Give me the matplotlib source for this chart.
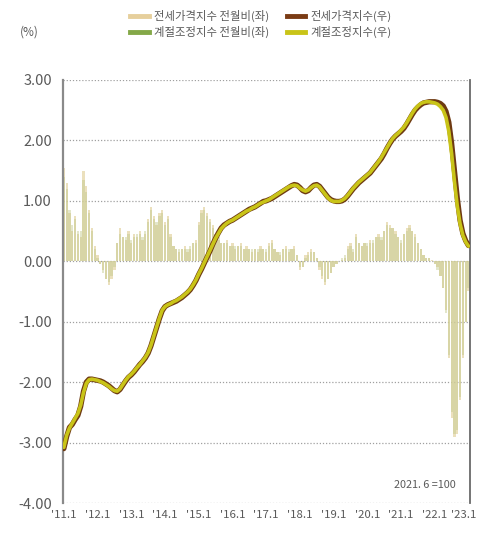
import matplotlib
matplotlib.use("Agg")
import matplotlib.pyplot as plt
import matplotlib.transforms as mtransforms
from matplotlib.lines import Line2D
import numpy as np

plt.rcParams['font.family'] = ['Noto Sans CJK KR', 'DejaVu Sans']

# x tick labels (every January, 2011-2023)
tick_labels = ["'11.1", "'12.1", "'13.1", "'14.1", "'15.1", "'16.1", "'17.1",
               "'18.1", "'19.1", "'20.1", "'21.1", "'22.1", "'23.1"]

# Monthly change of the jeonse price index (%), 2011.1 - 2023.1
chg_raw = (
    [1.55, 1.30, 0.80, 0.50, 0.75, 0.45, 0.40, 1.50, 1.25, 0.85, 0.55, 0.25] +      # 2011
    [0.10, -0.05, -0.15, -0.30, -0.40, -0.30, -0.15, 0.30, 0.55, 0.40, 0.35, 0.50] +  # 2012
    [0.30, 0.45, 0.40, 0.50, 0.35, 0.45, 0.70, 0.90, 0.75, 0.60, 0.80, 0.85] +      # 2013
    [0.65, 0.75, 0.45, 0.25, 0.20, 0.15, 0.20, 0.25, 0.15, 0.20, 0.30, 0.35] +      # 2014
    [0.65, 0.85, 0.90, 0.80, 0.70, 0.60, 0.45, 0.35, 0.30, 0.30, 0.35, 0.25] +      # 2015
    [0.30, 0.20, 0.25, 0.30, 0.20, 0.25, 0.20, 0.15, 0.20, 0.15, 0.25, 0.20] +      # 2016
    [0.15, 0.30, 0.35, 0.20, 0.15, 0.10, 0.20, 0.25, 0.15, 0.20, 0.25, 0.10] +      # 2017
    [-0.15, -0.10, 0.10, 0.15, 0.20, 0.15, 0.05, -0.15, -0.30, -0.40, -0.30, -0.20] +  # 2018
    [-0.10, -0.05, 0.00, 0.02, 0.05, 0.25, 0.30, 0.15, 0.45, 0.30, 0.25, 0.30] +    # 2019
    [0.25, 0.35, 0.30, 0.40, 0.45, 0.35, 0.50, 0.65, 0.60, 0.55, 0.50, 0.40] +      # 2020
    [0.30, 0.45, 0.55, 0.60, 0.50, 0.45, 0.30, 0.20, 0.10, 0.05, 0.05, 0.02] +      # 2021
    [-0.05, -0.10, -0.25, -0.45, -0.80, -1.60, -2.60, -2.90, -2.85, -2.30, -1.60, -1.00] +  # 2022
    [-0.50]                                                                         # 2023
)

# Monthly change of the seasonally adjusted index (%)
chg_sa = (
    [1.40, 1.20, 0.85, 0.60, 0.70, 0.50, 0.50, 1.35, 1.15, 0.80, 0.50, 0.20] +
    [0.05, -0.05, -0.20, -0.30, -0.35, -0.25, -0.10, 0.30, 0.45, 0.40, 0.40, 0.45] +
    [0.35, 0.40, 0.45, 0.45, 0.40, 0.50, 0.65, 0.85, 0.70, 0.65, 0.75, 0.80] +
    [0.60, 0.70, 0.40, 0.25, 0.20, 0.20, 0.20, 0.20, 0.20, 0.25, 0.30, 0.30] +
    [0.60, 0.80, 0.85, 0.75, 0.65, 0.55, 0.45, 0.40, 0.30, 0.30, 0.30, 0.25] +
    [0.25, 0.25, 0.25, 0.25, 0.20, 0.20, 0.20, 0.20, 0.20, 0.20, 0.20, 0.20] +
    [0.20, 0.25, 0.30, 0.20, 0.15, 0.15, 0.20, 0.20, 0.20, 0.20, 0.20, 0.10] +
    [-0.10, -0.10, 0.05, 0.10, 0.15, 0.15, 0.05, -0.10, -0.25, -0.35, -0.30, -0.20] +
    [-0.10, -0.05, 0.00, 0.05, 0.10, 0.20, 0.25, 0.20, 0.40, 0.30, 0.25, 0.30] +
    [0.30, 0.30, 0.35, 0.40, 0.40, 0.40, 0.50, 0.60, 0.55, 0.55, 0.45, 0.40] +
    [0.35, 0.45, 0.50, 0.55, 0.50, 0.40, 0.30, 0.20, 0.10, 0.05, 0.05, 0.00] +
    [-0.05, -0.15, -0.25, -0.45, -0.85, -1.55, -2.50, -2.85, -2.80, -2.25, -1.55, -1.00] +
    [-0.45]
)

# Index level (2021.6 = 100), shown on the hidden right-hand scale
idx_raw = (
    [-3.10, -2.90, -2.75, -2.70, -2.62, -2.55, -2.40, -2.15, -2.00, -1.95, -1.95, -1.96] +
    [-1.97, -1.98, -2.00, -2.03, -2.06, -2.10, -2.14, -2.16, -2.12, -2.05, -1.98, -1.92] +
    [-1.88, -1.83, -1.77, -1.71, -1.66, -1.60, -1.52, -1.40, -1.25, -1.10, -0.95, -0.82] +
    [-0.75, -0.72, -0.70, -0.68, -0.66, -0.63, -0.60, -0.56, -0.52, -0.47, -0.40, -0.32] +
    [-0.22, -0.13, -0.03, 0.07, 0.17, 0.28, 0.38, 0.47, 0.55, 0.60, 0.63, 0.66] +
    [0.68, 0.71, 0.74, 0.77, 0.80, 0.83, 0.86, 0.88, 0.90, 0.93, 0.96, 0.99] +
    [1.00, 1.02, 1.04, 1.07, 1.10, 1.13, 1.16, 1.19, 1.22, 1.25, 1.27, 1.26] +
    [1.22, 1.17, 1.15, 1.17, 1.22, 1.26, 1.27, 1.24, 1.18, 1.12, 1.06, 1.02] +
    [1.00, 0.99, 0.99, 1.00, 1.03, 1.08, 1.14, 1.20, 1.25, 1.30, 1.34, 1.38] +
    [1.42, 1.46, 1.52, 1.58, 1.64, 1.70, 1.78, 1.87, 1.95, 2.02, 2.07, 2.11] +
    [2.15, 2.20, 2.27, 2.35, 2.43, 2.50, 2.55, 2.59, 2.62, 2.63, 2.64, 2.64] +
    [2.64, 2.63, 2.61, 2.57, 2.48, 2.30, 1.95, 1.50, 1.05, 0.68, 0.46, 0.34] +
    [0.26]
)

idx_sa = (
    [-3.08, -2.88, -2.76, -2.68, -2.60, -2.52, -2.38, -2.17, -2.02, -1.96, -1.95, -1.96] +
    [-1.97, -1.99, -2.01, -2.04, -2.07, -2.11, -2.14, -2.15, -2.11, -2.04, -1.97, -1.91] +
    [-1.87, -1.82, -1.76, -1.71, -1.65, -1.59, -1.51, -1.39, -1.24, -1.09, -0.94, -0.81] +
    [-0.75, -0.72, -0.70, -0.67, -0.65, -0.62, -0.59, -0.55, -0.51, -0.46, -0.39, -0.31] +
    [-0.21, -0.12, -0.02, 0.08, 0.18, 0.28, 0.38, 0.46, 0.54, 0.59, 0.63, 0.66] +
    [0.68, 0.71, 0.74, 0.77, 0.80, 0.83, 0.85, 0.88, 0.90, 0.93, 0.96, 0.98] +
    [1.00, 1.02, 1.05, 1.08, 1.11, 1.14, 1.17, 1.20, 1.23, 1.25, 1.26, 1.25] +
    [1.21, 1.18, 1.16, 1.18, 1.22, 1.25, 1.26, 1.23, 1.17, 1.11, 1.05, 1.01] +
    [0.99, 0.99, 0.99, 1.01, 1.04, 1.09, 1.15, 1.21, 1.26, 1.31, 1.35, 1.39] +
    [1.43, 1.47, 1.53, 1.59, 1.65, 1.72, 1.80, 1.88, 1.96, 2.03, 2.08, 2.12] +
    [2.17, 2.22, 2.29, 2.37, 2.45, 2.52, 2.57, 2.61, 2.63, 2.64, 2.64, 2.63] +
    [2.62, 2.60, 2.56, 2.50, 2.38, 2.15, 1.78, 1.32, 0.92, 0.62, 0.43, 0.32] +
    [0.25]
)

months = np.arange(len(chg_raw))

fig = plt.figure(figsize=(4.79, 5.35), dpi=100)
ax = fig.add_axes([0.1315, 0.0598, 0.8495, 0.7907])

grid_col = "#a0a0a0"
text_col = "#5a5a5a"

for yv in range(-4, 4):
    ax.axhline(yv, color=grid_col, lw=0.9, ls=(0, (1, 1.5)), zorder=0)

ax.bar(months, chg_raw, width=0.8, color="#e3d3a2", alpha=0.7, zorder=1, linewidth=0)
ax.bar(months, chg_sa, width=0.8, color="#c2c98a", alpha=0.45, zorder=1, linewidth=0)

ax.plot(months, idx_raw, color="#6e3a12", lw=3.8, solid_capstyle="round", zorder=3)
ax.plot(months, idx_sa, color="#c9c418", lw=2.6, solid_capstyle="round", zorder=4)

ax.set_xlim(-0.3, 144.5)
ax.set_ylim(-4, 3)
ax.set_yticks(range(-4, 4))
ax.set_yticklabels([f"{v:.2f}" for v in range(-4, 4)])
ax.set_xticks(np.arange(0, 145, 12))
ax.set_xticklabels(tick_labels)
ax.tick_params(axis="y", length=0, pad=8, labelsize=10.5, labelcolor=text_col)
ax.tick_params(axis="x", length=0, pad=5, labelsize=8.2, labelcolor=text_col)

# nudge the last date label inward so it stays inside the figure
last = ax.get_xticklabels()[-1]
last.set_transform(last.get_transform() +
                   mtransforms.ScaledTranslation(-5 / 100, 0, fig.dpi_scale_trans))

for side in ("top", "bottom"):
    ax.spines[side].set_visible(False)
ax.spines["left"].set_color("#8a8a8a")
ax.spines["left"].set_linewidth(1.6)
ax.spines["right"].set_color("#6a6a6a")
ax.spines["right"].set_linewidth(1.3)

ax.text(0.965, 0.03, "2021. 6 =100", transform=ax.transAxes, ha="right",
        va="bottom", fontsize=7.8, color=text_col)

fig.text(0.042, 0.94, "(%)", fontsize=8.5, color=text_col, va="center")

handles = [
    Line2D([], [], color="#e6cf9c", lw=3.5),
    Line2D([], [], color="#84a848", lw=3.5),
    Line2D([], [], color="#7a3b14", lw=3.5),
    Line2D([], [], color="#c9c418", lw=3.5),
]
labels = ["전세가격지수 전월비(좌)", "계절조정지수 전월비(좌)",
          "전세가격지수(우)", "계절조정지수(우)"]
leg = fig.legend(handles, labels, ncol=2, loc="center", bbox_to_anchor=(0.545, 0.955),
                 frameon=False, fontsize=8.2, handlelength=1.6, handletextpad=0.5,
                 columnspacing=1.5, labelspacing=0.35)
for t in leg.get_texts():
    t.set_color(text_col)

fig.savefig("out.png", dpi=100)
